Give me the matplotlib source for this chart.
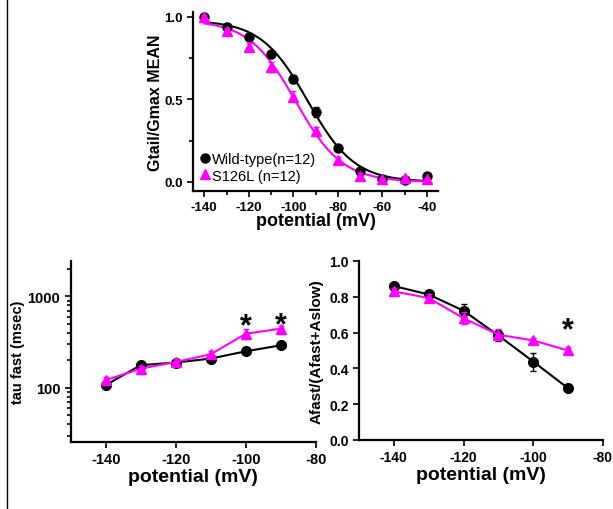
import numpy as np
import matplotlib
matplotlib.use("Agg")
import matplotlib.pyplot as plt
from matplotlib.lines import Line2D
from matplotlib.ticker import (MultipleLocator, LogLocator, NullFormatter,
                               FixedLocator, FixedFormatter, FormatStrFormatter)

plt.rcParams['font.family'] = ['Liberation Sans', 'DejaVu Sans']
plt.rcParams['font.weight'] = 'bold'
plt.rcParams['axes.unicode_minus'] = False

WT_COLOR = "black"
MUT_COLOR = "#ff00ff"

# ---- Top: activation (Gtail/Gmax) ----
v_act = [-140, -130, -120, -110, -100, -90, -80, -70, -60, -50, -40]
g_wt = [1.0, 0.94, 0.88, 0.775, 0.625, 0.426, 0.205, 0.067, 0.02, 0.01, 0.037]
g_wt_err = [0.01, 0.015, 0.015, 0.02, 0.025, 0.03, 0.02, 0.015, 0.01, 0.01, 0.01]
g_mut = [1.0, 0.913, 0.82, 0.696, 0.517, 0.306, 0.13, 0.037, 0.016, 0.026, 0.016]
g_mut_err = [0.01, 0.02, 0.02, 0.03, 0.035, 0.03, 0.02, 0.015, 0.01, 0.01, 0.01]
# Boltzmann fit parameters (amplitude, V1/2, slope)
fit_wt = (0.98, -93.5, 10.5)
fit_mut = (0.98, -99.0, 10.5)

# ---- Bottom-left: tau fast ----
v_tau = [-140, -130, -120, -110, -100, -90]
tau_wt = [107, 177, 189, 209, 251, 292]
tau_wt_err = [8, 10, 10, 10, 12, 12]
tau_mut = [121, 162, 192, 233, 391, 444]
tau_mut_err = [10, 12, 15, 18, 50, 30]

# ---- Bottom-right: Afast fraction ----
v_amp = [-140, -130, -120, -110, -100, -90]
a_wt = [0.86, 0.813, 0.722, 0.584, 0.438, 0.289]
a_wt_err = [0.015, 0.015, 0.035, 0.03, 0.05, 0.015]
a_mut = [0.83, 0.793, 0.681, 0.588, 0.556, 0.50]
a_mut_err = [0.02, 0.02, 0.035, 0.03, 0.015, 0.02]

fig = plt.figure(figsize=(6.13, 5.10), dpi=100)

def style(ax, size):
    for s in ['top', 'right']:
        ax.spines[s].set_visible(False)
    for s in ['left', 'bottom']:
        ax.spines[s].set_linewidth(1.6)
    ax.tick_params(which='both', direction='out', width=1.2, labelsize=size)
    ax.tick_params(which='major', length=4)
    ax.tick_params(which='minor', length=3)

# Top plot
ax1 = fig.add_axes([0.315, 0.6235, 0.3997, 0.351])
vv = np.linspace(-140, -40, 300)
def boltz(v, p):
    a, vh, k = p
    return a / (1 + np.exp((v - vh) / k))
ax1.plot(vv, boltz(vv, fit_wt), color=WT_COLOR, lw=1.5, zorder=2)
ax1.plot(vv, boltz(vv, fit_mut), color=MUT_COLOR, lw=1.5, zorder=2)
ax1.errorbar(v_act, g_wt, yerr=g_wt_err, fmt='o', color=WT_COLOR, ms=6.5,
             capsize=2, elinewidth=1, zorder=3)
ax1.errorbar(v_act, g_mut, yerr=g_mut_err, fmt='^', color=MUT_COLOR, ms=7,
             capsize=2, elinewidth=1, zorder=4)
ax1.set_xlim(-145, -35)
ax1.set_ylim(-0.055, 1.03)
ax1.xaxis.set_major_locator(FixedLocator([-140, -120, -100, -80, -60, -40]))
ax1.xaxis.set_minor_locator(MultipleLocator(10))
ax1.yaxis.set_major_locator(FixedLocator([0.0, 0.5, 1.0]))
ax1.yaxis.set_major_formatter(FormatStrFormatter('%.1f'))
ax1.yaxis.set_minor_locator(MultipleLocator(0.25))
ax1.set_xlabel('potential (mV)', fontsize=13, fontweight='bold', labelpad=-1)
ax1.set_ylabel('Gtail/Gmax MEAN', fontsize=11.5, fontweight='bold', labelpad=1)
style(ax1, 9.5)
h = [Line2D([], [], marker='o', color=WT_COLOR, ls='none', ms=6.5),
     Line2D([], [], marker='^', color=MUT_COLOR, ls='none', ms=7)]
l = ['Wild-type(n=12)', 'S126L (n=12)']
ax1.legend(h, l, loc='lower left', bbox_to_anchor=(-0.01, -0.01), frameon=False,
           prop={'size': 10.5, 'weight': 'normal'}, handlelength=0.6,
           handletextpad=0.15, labelspacing=0.2, borderaxespad=0.3)

# Bottom-left (log)
ax2 = fig.add_axes([0.1153, 0.1314, 0.400, 0.355])
ax2.errorbar(v_tau, tau_wt, yerr=tau_wt_err, fmt='-o', color=WT_COLOR, ms=7,
             capsize=2, elinewidth=1, lw=1.5, zorder=3)
ax2.errorbar(v_tau, tau_mut, yerr=tau_mut_err, fmt='-^', color=MUT_COLOR, ms=7,
             capsize=2, elinewidth=1, lw=1.5, zorder=4)
ax2.set_yscale('log')
ax2.set_xlim(-150, -80)
ax2.set_ylim(25.5, 2450)
ax2.xaxis.set_major_locator(FixedLocator([-140, -120, -100, -80]))
ax2.yaxis.set_major_locator(FixedLocator([100, 1000]))
ax2.yaxis.set_major_formatter(FixedFormatter(['100', '1000']))
ax2.yaxis.set_minor_locator(LogLocator(base=10, subs=np.arange(2, 10)))
ax2.yaxis.set_minor_formatter(NullFormatter())
ax2.set_xlabel('potential (mV)', fontsize=14, fontweight='bold', labelpad=1)
ax2.set_ylabel('tau fast (msec)', fontsize=10.5, fontweight='bold')
ax2.yaxis.set_label_coords(-0.185, 0.5)
style(ax2, 10.5)
for x, y in [(-100, 320), (-90, 335)]:
    ax2.text(x, y, '*', ha='center', va='bottom', fontsize=22, fontweight='bold')

# Bottom-right
ax3 = fig.add_axes([0.5856, 0.1353, 0.398, 0.351])
ax3.errorbar(v_amp, a_wt, yerr=a_wt_err, fmt='-o', color=WT_COLOR, ms=7,
             capsize=2, elinewidth=1, lw=1.5, zorder=3)
ax3.errorbar(v_amp, a_mut, yerr=a_mut_err, fmt='-^', color=MUT_COLOR, ms=7,
             capsize=2, elinewidth=1, lw=1.5, zorder=4)
ax3.set_xlim(-150, -80)
ax3.set_ylim(0, 1.0)
ax3.xaxis.set_major_locator(FixedLocator([-140, -120, -100, -80]))
ax3.yaxis.set_major_locator(MultipleLocator(0.2))
ax3.yaxis.set_major_formatter(FormatStrFormatter('%.1f'))
ax3.set_xlabel('potential (mV)', fontsize=14, fontweight='bold', labelpad=1)
ax3.set_ylabel('Afast/(Afast+Aslow)', fontsize=11, fontweight='bold', labelpad=4)
style(ax3, 10)
ax3.text(-90, 0.53, '*', ha='center', va='bottom', fontsize=22, fontweight='bold')

# left border line of the figure
fig.add_artist(Line2D([7 / 613, 7 / 613], [0, 1], transform=fig.transFigure,
                      color='black', lw=1))

fig.savefig('out.png', dpi=100)
